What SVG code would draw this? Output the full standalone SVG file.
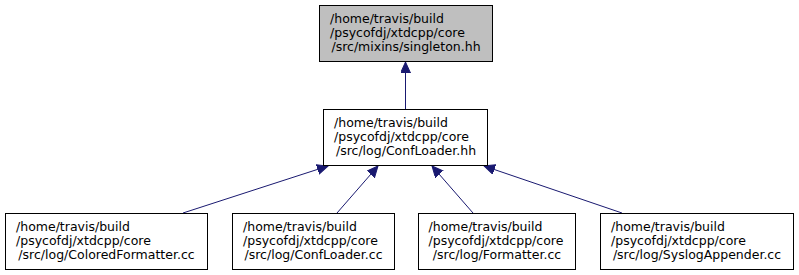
<svg xmlns="http://www.w3.org/2000/svg" width="799" height="275" viewBox="0 0 799 275">
  <style>
    .box { fill: #ffffff; stroke: #000000; stroke-width: 1; }
    .root { fill: #bfbfbf; }
    text { font-family: "DejaVu Sans", "Liberation Sans", sans-serif; font-size: 12.5px; fill: #000000; }
    .mid { text-anchor: middle; }
    .edge { stroke: #191970; stroke-width: 1; fill: none; marker-end: url(#arrow); }
  </style>
  <defs>
    <marker id="arrow" markerUnits="userSpaceOnUse" markerWidth="12" markerHeight="12" refX="11" refY="5" orient="auto">
      <path d="M0,0 L11,5 L0,10 Z" fill="#191970" stroke="#191970" stroke-width="1"/>
    </marker>
  </defs>
  <rect width="799" height="275" fill="#ffffff"/>

  <!-- include dependency edges (child -> included header) -->
  <g id="edges">
    <line class="edge" x1="405.5" y1="109" x2="405.5" y2="62"/>
    <line class="edge" x1="183" y1="213" x2="328" y2="166"/>
    <line class="edge" x1="337" y1="213" x2="378" y2="166"/>
    <line class="edge" x1="473" y1="213" x2="432" y2="166"/>
    <line class="edge" x1="622" y1="213" x2="484" y2="166"/>
  </g>

  <g id="node-singleton">
    <rect class="box root" x="319.5" y="5.5" width="173" height="56"/>
    <text x="330" y="23">/home/travis/build</text>
    <text x="330" y="37">/psycofdj/xtdcpp/core</text>
    <text class="mid" x="406" y="51">/src/mixins/singleton.hh</text>
  </g>

  <g id="node-confloader-hh">
    <rect class="box" x="323.5" y="109.5" width="164" height="56"/>
    <text x="334" y="127">/home/travis/build</text>
    <text x="334" y="141">/psycofdj/xtdcpp/core</text>
    <text class="mid" x="406" y="155">/src/log/ConfLoader.hh</text>
  </g>

  <g id="node-coloredformatter">
    <rect class="box" x="5.5" y="213.5" width="202" height="56"/>
    <text x="16" y="231">/home/travis/build</text>
    <text x="16" y="245">/psycofdj/xtdcpp/core</text>
    <text class="mid" x="106.5" y="259">/src/log/ColoredFormatter.cc</text>
  </g>

  <g id="node-confloader-cc">
    <rect class="box" x="232.5" y="213.5" width="162" height="56"/>
    <text x="243" y="231">/home/travis/build</text>
    <text x="243" y="245">/psycofdj/xtdcpp/core</text>
    <text class="mid" x="313.5" y="259">/src/log/ConfLoader.cc</text>
  </g>

  <g id="node-formatter">
    <rect class="box" x="418.5" y="213.5" width="157" height="56"/>
    <text x="428.5" y="231">/home/travis/build</text>
    <text x="428.5" y="245">/psycofdj/xtdcpp/core</text>
    <text class="mid" x="497" y="259">/src/log/Formatter.cc</text>
  </g>

  <g id="node-syslogappender">
    <rect class="box" x="600.5" y="213.5" width="193" height="56"/>
    <text x="611" y="231">/home/travis/build</text>
    <text x="611" y="245">/psycofdj/xtdcpp/core</text>
    <text class="mid" x="697" y="259">/src/log/SyslogAppender.cc</text>
  </g>
</svg>
